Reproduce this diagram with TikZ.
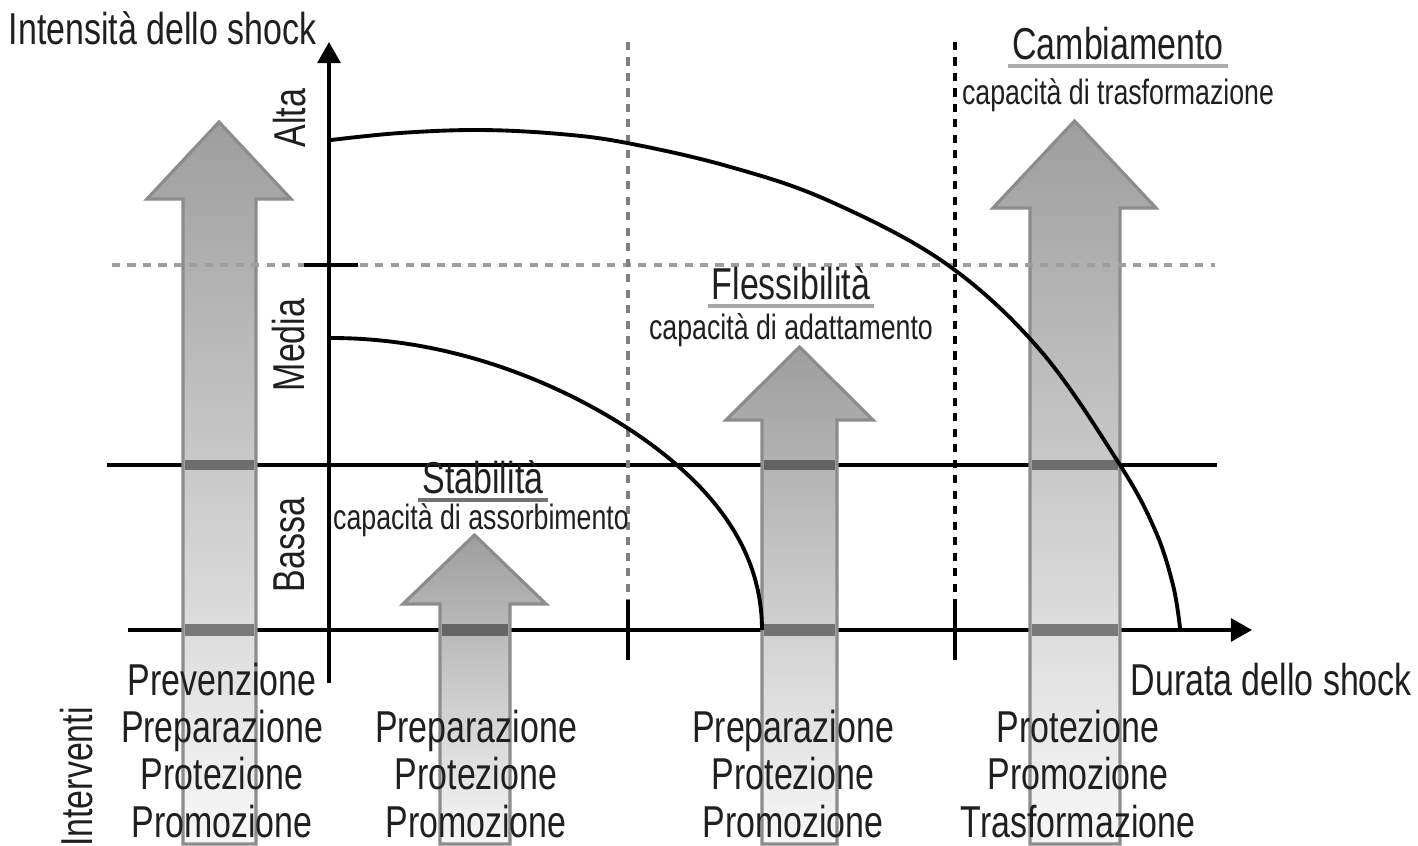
\documentclass[tikz,border=0pt]{standalone}
\usepackage{fontspec}
\setmainfont{Liberation Sans}[FakeStretch=0.76]
\usetikzlibrary{arrows.meta}
\newcommand\blockarr[6]{\path[blockarrow] (#1,844) -- (#1,#5) -- (#3,#5) -- ({(#3+#4)/2},#6) -- (#4,#5) -- (#2,#5) -- (#2,844) -- cycle;}
\begin{document}
\begin{tikzpicture}[x=0.01cm,y=-0.01cm,
  lbl/.style={font=\fontsize{12.7}{14}\selectfont, inner sep=0pt, text=black!88},
  sub/.style={font=\fontsize{10}{12}\selectfont, inner sep=0pt, text=black!88},
  axisline/.style={line width=1.05pt, black},
  dotline/.style={line width=0.9pt, dash pattern=on 2.3pt off 2.1pt},
  blockarrow/.style={shading=axis, top color=black!38, bottom color=black!3, draw=black!45, line width=0.9pt, line join=miter},
  band/.style={fill=black, fill opacity=0.45},
  uline/.style={line width=1.2pt},
  curve/.style={line width=1.1pt, black, line join=round}
]
\useasboundingbox (0,0) rectangle (1418,846);
\fill[white] (0,0) rectangle (1418,846);

% lines behind the arrows
\draw[axisline] (107,465) -- (1217,465);
\draw[axisline,-{Triangle[length=6pt,width=6.5pt]}] (128,630) -- (1252,630);

% block arrows
\blockarr{183}{256}{147}{291}{199}{122}
\blockarr{440}{510}{403}{546}{604}{535}
\blockarr{762}{837}{726}{873}{420}{347}
\blockarr{1030}{1120}{993}{1156}{208}{121}

% dark bands where the lines cross the arrows
\fill[band] (185,460) rectangle (254,470);
\fill[band] (185,624) rectangle (254,636);
\fill[band] (442,624) rectangle (508,636);
\fill[band] (764,460) rectangle (835,470);
\fill[band] (764,624) rectangle (835,636);
\fill[band] (1032,460) rectangle (1118,470);
\fill[band] (1032,624) rectangle (1118,636);

% dotted level line
\draw[dotline, black!38] (112,265) -- (1215,265);
\draw[axisline] (304,265) -- (358,265);

% vertical axis
\draw[axisline,-{Triangle[length=6pt,width=6.5pt]}] (329,683) -- (329,42);

% vertical separators
\draw[dotline, black!50] (628,42) -- (628,600);
\draw[axisline] (628,600) -- (628,660);
\draw[dotline, black] (955,42) -- (955,600);
\draw[axisline] (955,600) -- (955,660);

% curves
\draw[curve] plot[smooth, tension=0.6] coordinates {(331,140) (400,133) (480,130) (560,134) (627,143) (727,166) (827,200) (945,263) (1040,350) (1120,465) (1155,530) (1173,585) (1180,628)};
\draw[curve] plot[domain=90:0, samples=90, smooth] ({331+431*cos(\x)}, {630-292*sin(\x)+10*sin(2*\x)*sin(2*\x)});

% axis labels
\node[lbl, anchor=base west] (ylab) at (8,45) {Intensità dello shock};
\node[lbl, anchor=base west] (xlab) at (1130,695) {Durata dello shock};
\node[lbl, rotate=90] (alta) at (290,118) {Alta};
\node[lbl, rotate=90] (media) at (289,345) {Media};
\node[lbl, rotate=90] (bassa) at (289,545) {Bassa};
\node[lbl, rotate=90] (interv) at (77,777) {Interventi};

% region titles
\node[lbl, anchor=base] (stab) at (483,494) {Stabilità};
\draw[uline, black!55] ([xshift=-1pt,yshift=-1.7pt]stab.base west) -- ([xshift=1pt,yshift=-1.7pt]stab.base east);
\node[sub, anchor=base] (stabs) at (481,530) {capacità di assorbimento};
\node[lbl, anchor=base] (fles) at (791,300) {Flessibilità};
\draw[uline, black!35] ([xshift=-1pt,yshift=-1.7pt]fles.base west) -- ([xshift=1pt,yshift=-1.7pt]fles.base east);
\node[sub, anchor=base] (fless) at (791,340) {capacità di adattamento};
\node[lbl, anchor=base] (camb) at (1118,60) {Cambiamento};
\draw[uline, black!33] ([xshift=-1pt,yshift=-1.7pt]camb.base west) -- ([xshift=1pt,yshift=-1.7pt]camb.base east);
\node[sub, anchor=base] (cambs) at (1118,105) {capacità di trasformazione};

% intervention lists
\node[lbl, anchor=base] (a1) at (222,695) {Prevenzione};
\node[lbl, anchor=base] (a2) at (222,742) {Preparazione};
\node[lbl, anchor=base] (a3) at (222,789) {Protezione};
\node[lbl, anchor=base] (a4) at (222,837) {Promozione};
\node[lbl, anchor=base] (b1) at (476,742) {Preparazione};
\node[lbl, anchor=base] (b2) at (476,789) {Protezione};
\node[lbl, anchor=base] (b3) at (476,837) {Promozione};
\node[lbl, anchor=base] (c1) at (793,742) {Preparazione};
\node[lbl, anchor=base] (c2) at (793,789) {Protezione};
\node[lbl, anchor=base] (c3) at (793,837) {Promozione};
\node[lbl, anchor=base] (d1) at (1078,742) {Protezione};
\node[lbl, anchor=base] (d2) at (1078,789) {Promozione};
\node[lbl, anchor=base] (d3) at (1078,837) {Trasformazione};
\end{tikzpicture}
\end{document}
